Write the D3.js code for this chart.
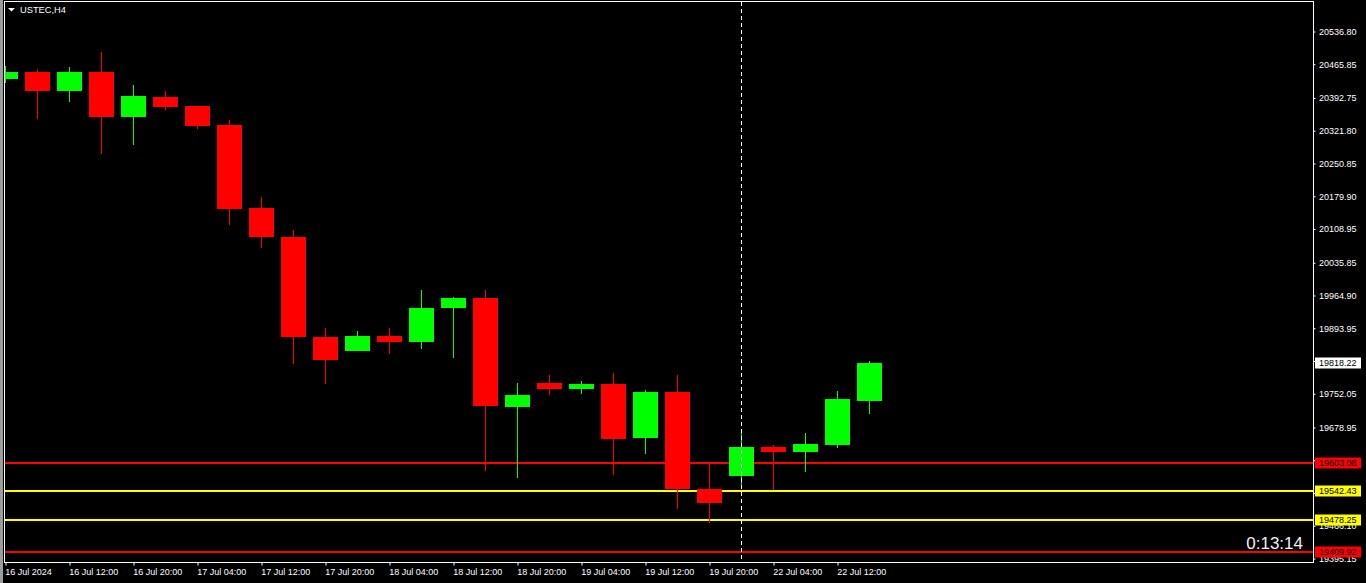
<!DOCTYPE html>
<html>
<head>
<meta charset="utf-8">
<script src="https://cdn.jsdelivr.net/npm/d3@7/dist/d3.min.js"></script>
<style>
html,body{margin:0;padding:0;background:#000;overflow:hidden;}
svg{display:block;}
text{font-family:"Liberation Sans",Arial,sans-serif;}
</style>
</head>
<body>
<svg id="chart" width="1366" height="583"></svg>
<script>
// ---------- DATA ----------
const symbolTitle = "USTEC,H4";
const timerText = "0:13:14";
const candleTimes = [
  "16 Jul 04:00","16 Jul 08:00","16 Jul 12:00","16 Jul 16:00","16 Jul 20:00",
  "17 Jul 00:00","17 Jul 04:00","17 Jul 08:00","17 Jul 12:00","17 Jul 16:00","17 Jul 20:00",
  "18 Jul 00:00","18 Jul 04:00","18 Jul 08:00","18 Jul 12:00","18 Jul 16:00","18 Jul 20:00",
  "19 Jul 00:00","19 Jul 04:00","19 Jul 08:00","19 Jul 12:00","19 Jul 16:00","19 Jul 20:00",
  "22 Jul 00:00","22 Jul 04:00","22 Jul 08:00","22 Jul 12:00","22 Jul 16:00"
];
const opens  = [20434,20448,20408,20448,20352,20395,20375,20334,20154,20092,19875,19845,19877,19865,19938,19959,19724,19775,19762,19773,19656,19756,19545,19574,19637,19626,19641,19736];
const highs  = [20462,20456,20460,20492,20421,20408,20376,20345,20178,20107,19895,19888,19895,19977,19962,19977,19775,19793,19780,19797,19760,19793,19603,19667,19641,19667,19758,19823];
const lows   = [20426,20347,20383,20272,20291,20367,20326,20118,20068,19817,19774,19845,19839,19850,19830,19585,19570,19750,19752,19575,19622,19503,19471,19552,19544,19583,19635,19708];
const closes = [20448,20408,20448,20352,20397,20373,20332,20153,20092,19875,19826,19877,19865,19938,19959,19726,19749,19762,19773,19654,19756,19545,19515,19637,19626,19643,19741,19818.22];

const yTickValues = [20536.80,20465.85,20392.75,20321.80,20250.85,20179.90,20108.95,20035.85,19964.90,19893.95,19823.00,19752.05,19678.95,19608.00,19537.05,19466.10,19395.15];
const xTickIndex  = [0,2,4,6,8,10,12,14,16,18,20,22,24,26];
const xTickLabels = ["16 Jul 2024","16 Jul 12:00","16 Jul 20:00","17 Jul 04:00","17 Jul 12:00","17 Jul 20:00","18 Jul 04:00","18 Jul 12:00","18 Jul 20:00","19 Jul 04:00","19 Jul 12:00","19 Jul 20:00","22 Jul 04:00","22 Jul 12:00"];

const levelValues = [19603.08, 19542.43, 19478.25, 19409.92];
const levelKinds  = ["red","yellow","yellow","red"];
const separatorTime = "22 Jul 00:00";

// ---------- STYLE / LAYOUT ----------
const COLORS = {up:"#00ff00", down:"#ff0000", red:"#ff0000", yellow:"#ffff00", fg:"#ffffff"};
const L = 4.5, R = 1313.5, T = 1.5, B = 562.5;

const svg = d3.select("#chart");
svg.append("rect").attr("width",1366).attr("height",583).attr("fill","#000");
svg.append("rect").attr("x",0).attr("y",0).attr("width",3).attr("height",583).attr("fill","#9c9c9c");

const x = d3.scaleLinear().domain([0, 27]).range([5.5, 869.5]);
const y = d3.scaleLinear().domain([19395.15, 20536.80]).range([558.5, 31.5]);
const bodyW = 25;

svg.append("defs").append("clipPath").attr("id","plot")
  .append("rect").attr("x",5).attr("y",2).attr("width",R-5).attr("height",B-2);

const plot = svg.append("g").attr("clip-path","url(#plot)");

// level lines
plot.selectAll("line.level").data(levelValues).enter().append("line")
  .attr("class","level")
  .attr("x1",L).attr("x2",R)
  .attr("y1",d=>Math.round(y(d))).attr("y2",d=>Math.round(y(d)))
  .attr("stroke",(d,i)=>COLORS[levelKinds[i]]).attr("stroke-width",2);

// candles
const candles = candleTimes.map((t,i)=>({t,i,o:opens[i],h:highs[i],l:lows[i],c:closes[i]}));
const cg = plot.selectAll("g.candle").data(candles).enter().append("g").attr("class","candle");
cg.append("line")
  .attr("x1",d=>x(d.i)).attr("x2",d=>x(d.i))
  .attr("y1",d=>Math.round(y(d.h))).attr("y2",d=>Math.round(y(d.l)))
  .attr("stroke",d=>d.c>=d.o?COLORS.up:COLORS.down).attr("stroke-width",1);
cg.append("rect")
  .attr("x",d=>x(d.i)-bodyW/2)
  .attr("width",bodyW)
  .attr("y",d=>Math.round(y(Math.max(d.o,d.c))))
  .attr("height",d=>Math.max(1,Math.round(y(Math.min(d.o,d.c)))-Math.round(y(Math.max(d.o,d.c)))))
  .attr("fill",d=>d.c>=d.o?COLORS.up:COLORS.down);

// separator dashed line
const sepX = x(candleTimes.indexOf(separatorTime));
svg.append("line").attr("x1",sepX).attr("x2",sepX).attr("y1",2).attr("y2",B)
  .attr("stroke","#fff").attr("stroke-width",1).attr("stroke-dasharray","4,3");

// frame
svg.append("rect").attr("x",L).attr("y",T).attr("width",R-L).attr("height",B-T)
  .attr("fill","none").attr("stroke","#fff").attr("stroke-width",1);

// right axis
const yAxis = d3.axisRight(y).tickValues(yTickValues).tickFormat(d3.format(".2f"))
  .tickSize(2).tickPadding(3.5);
const ya = svg.append("g").attr("transform",`translate(${R},0)`).call(yAxis);
ya.select(".domain").remove();
ya.selectAll(".tick line").attr("stroke","#fff");
ya.selectAll(".tick text").attr("fill",COLORS.fg).attr("font-size","9px")
  .attr("font-family","'Liberation Sans',Arial,sans-serif");

// bottom axis
const xAxis = d3.axisBottom(x).tickValues(xTickIndex)
  .tickFormat((d,i)=>xTickLabels[i]).tickSize(3).tickPadding(3);
const xa = svg.append("g").attr("transform",`translate(0,${B})`).call(xAxis);
xa.select(".domain").remove();
xa.selectAll(".tick line").attr("stroke","#fff");
xa.selectAll(".tick text").attr("fill",COLORS.fg).attr("font-size","9px")
  .attr("text-anchor","start").attr("dx","-0.8")
  .attr("font-family","'Liberation Sans',Arial,sans-serif");

// price labels
function priceLabel(v, bg){
  const yy = Math.round(y(v));
  const g = svg.append("g");
  g.append("rect").attr("x",1315).attr("y",yy-5.5).attr("width",46).attr("height",11).attr("fill",bg);
  g.append("text").attr("x",1319).attr("y",yy).attr("dy","0.35em")
    .attr("font-size","9px").attr("fill","#000").text(d3.format(".2f")(v));
}
levelValues.forEach((v,i)=>priceLabel(v, COLORS[levelKinds[i]]));
priceLabel(closes[closes.length-1], "#ffffff");

// title
svg.append("path").attr("d","M8,8 L15,8 L11.5,11.5 Z").attr("fill","#fff");
svg.append("text").attr("x",20).attr("y",9.5).attr("dy","0.35em")
  .attr("font-size","9.3px").attr("fill","#fff").text(symbolTitle);

// timer
svg.append("text").attr("x",1303).attr("y",549).attr("text-anchor","end")
  .attr("font-size","17px").attr("fill","#f0f0f0").text(timerText);
</script>
</body>
</html>
